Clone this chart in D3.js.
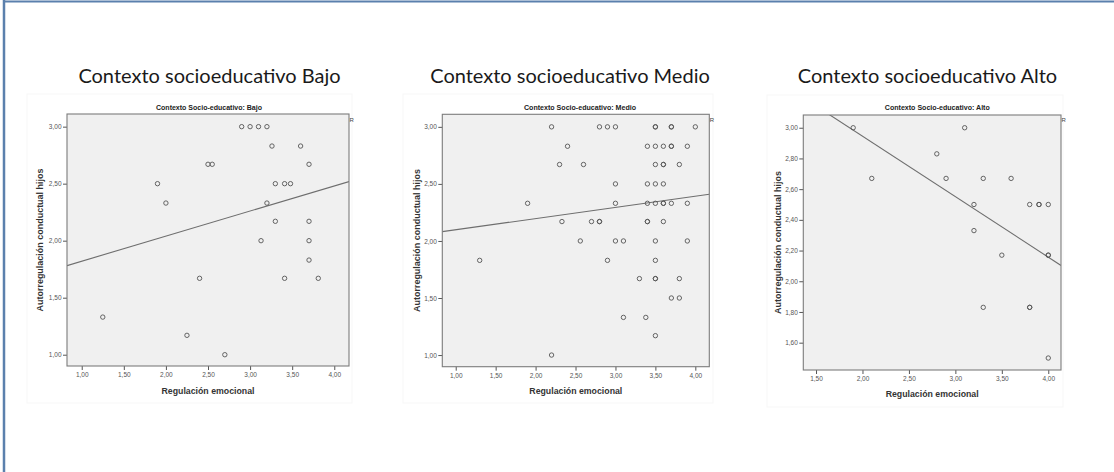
<!DOCTYPE html>
<html>
<head>
<meta charset="utf-8">
<script src="https://cdn.jsdelivr.net/npm/d3@7"></script>
<style>
  body { margin: 0; background: #fff; }
  svg { display: block; }
</style>
</head>
<body>
<svg id="chart"></svg>
<script>
// ---- data ----
const groups = ["Bajo", "Medio", "Alto"];

const bajoX = [2.9, 3.0, 3.1, 3.2, 3.26, 3.6, 2.5, 2.55, 3.7, 1.9, 3.3, 3.41, 3.48,
  2.0, 3.2, 3.3, 3.7, 3.13, 3.7, 3.7, 2.4, 3.41, 3.81, 1.25, 2.25, 2.7];
const bajoY = [3.0, 3.0, 3.0, 3.0, 2.83, 2.83, 2.67, 2.67, 2.67, 2.5, 2.5, 2.5, 2.5,
  2.33, 2.33, 2.17, 2.17, 2.0, 2.0, 1.83, 1.67, 1.67, 1.67, 1.33, 1.17, 1.0];

const medioX = [2.2, 2.8, 2.9, 3.0, 3.5, 3.5, 3.7, 3.7, 4.0,
  2.4, 3.4, 3.5, 3.6, 3.7, 3.7, 3.9,
  2.3, 2.6, 3.5, 3.6, 3.6, 3.8,
  3.0, 3.4, 3.5, 3.6,
  1.9, 3.0, 3.4, 3.5, 3.6, 3.6, 3.7, 3.9,
  2.33, 2.7, 2.8, 2.8, 3.4, 3.4, 3.6,
  2.56, 3.0, 3.1, 3.5, 3.9,
  1.3, 2.9, 3.5,
  3.3, 3.5, 3.5, 3.8,
  3.7, 3.8,
  3.1, 3.38,
  3.5,
  2.2];
const medioY = [3.0, 3.0, 3.0, 3.0, 3.0, 3.0, 3.0, 3.0, 3.0,
  2.83, 2.83, 2.83, 2.83, 2.83, 2.83, 2.83,
  2.67, 2.67, 2.67, 2.67, 2.67, 2.67,
  2.5, 2.5, 2.5, 2.5,
  2.33, 2.33, 2.33, 2.33, 2.33, 2.33, 2.33, 2.33,
  2.17, 2.17, 2.17, 2.17, 2.17, 2.17, 2.17,
  2.0, 2.0, 2.0, 2.0, 2.0,
  1.83, 1.83, 1.83,
  1.67, 1.67, 1.67, 1.67,
  1.5, 1.5,
  1.33, 1.33,
  1.17,
  1.0];

const altoX = [1.9, 3.1, 2.8, 2.1, 2.9, 3.3, 3.6, 3.2, 3.8, 3.9, 3.9, 4.0,
  3.2, 3.5, 4.0, 4.0, 3.3, 3.8, 3.8, 4.0];
const altoY = [3.0, 3.0, 2.83, 2.67, 2.67, 2.67, 2.67, 2.5, 2.5, 2.5, 2.5, 2.5,
  2.33, 2.17, 2.17, 2.17, 1.83, 1.83, 1.83, 1.5];

// linear fit lines (intercept, slope) as drawn in the picture
const fitIntercept = [1.60, 2.00, 3.733];
const fitSlope = [0.22, 0.098, -0.394];

const xTicksLow = [1, 1.5, 2, 2.5, 3, 3.5, 4];
const yTicksLow = [1, 1.5, 2, 2.5, 3];
const xTicksAlto = [1.5, 2, 2.5, 3, 3.5, 4];
const yTicksAlto = [1.6, 1.8, 2, 2.2, 2.4, 2.6, 2.8, 3];

const zip = (xs, ys) => xs.map((x, i) => ({ x: x, y: ys[i] }));

class ScatterPanel {
  constructor(_config, _data) {
    this.config = _config;
    this.data = _data;
    this.initVis();
  }

  initVis() {
    let vis = this;
    let c = vis.config;

    vis.svg = d3.select(c.parentElement);
    vis.g = vis.svg.append('g');

    // big slide title
    vis.g.append('text')
      .attr('x', c.titleX)
      .attr('y', 83)
      .attr('text-anchor', 'middle')
      .style('font-family', 'Lato, "Open Sans", sans-serif')
      .style('font-size', '20px')
      .style('fill', '#1a1a1a')
      .text('Contexto socioeducativo ' + c.group);

    // white panel of the pasted SPSS chart
    vis.g.append('rect')
      .attr('x', c.bg[0]).attr('y', c.bg[1])
      .attr('width', c.bg[2] - c.bg[0]).attr('height', c.bg[3] - c.bg[1])
      .attr('fill', '#fff')
      .attr('stroke', '#f7f7f7');

    vis.xScale = d3.scaleLinear().domain(c.xDomain).range([c.frame.left, c.frame.right]);
    vis.yScale = d3.scaleLinear().domain(c.yDomain).range([c.frame.bottom, c.frame.top]);

    vis.updateVis();
  }

  updateVis() {
    let vis = this;
    let c = vis.config;
    let w = c.frame.right - c.frame.left;
    let h = c.frame.bottom - c.frame.top;
    let fmt = d3.formatLocale({ decimal: ',', thousands: '.', grouping: [3], currency: ['', ''] }).format('.2f');

    vis.g.append('rect')
      .attr('x', c.frame.left).attr('y', c.frame.top)
      .attr('width', w).attr('height', h)
      .attr('fill', '#f0f0f0');

    let clipId = 'clip' + c.group;
    vis.g.append('clipPath').attr('id', clipId)
      .append('rect')
      .attr('x', c.frame.left).attr('y', c.frame.top)
      .attr('width', w).attr('height', h);

    // axes
    let xAxis = d3.axisBottom(vis.xScale).tickValues(c.xTicks).tickFormat(fmt)
      .tickSize(4).tickSizeOuter(0).tickPadding(2.5);
    let yAxis = d3.axisLeft(vis.yScale).tickValues(c.yTicks).tickFormat(fmt)
      .tickSize(4).tickSizeOuter(0).tickPadding(1.5);

    let xg = vis.g.append('g')
      .attr('transform', `translate(0,${c.frame.bottom})`)
      .call(xAxis);
    let yg = vis.g.append('g')
      .attr('transform', `translate(${c.frame.left},0)`)
      .call(yAxis);
    [xg, yg].forEach(ag => {
      ag.select('.domain').remove();
      ag.selectAll('line').attr('stroke', '#555');
      ag.selectAll('text')
        .style('font-family', '"Liberation Sans", Arial, sans-serif')
        .style('font-size', '6.5px')
        .attr('fill', '#555');
    });

    vis.renderVis(clipId);

    // frame
    vis.g.append('rect')
      .attr('x', c.frame.left).attr('y', c.frame.top)
      .attr('width', w).attr('height', h)
      .attr('fill', 'none')
      .attr('stroke', '#7c7c7c')
      .attr('stroke-width', 1.1);

    // chart title inside the pasted picture
    vis.g.append('text')
      .attr('x', c.innerTitleX).attr('y', 110)
      .attr('text-anchor', 'middle')
      .attr('textLength', c.innerTitleLen)
      .attr('lengthAdjust', 'spacingAndGlyphs')
      .style('font-family', '"Liberation Sans", Arial, sans-serif')
      .style('font-weight', 'bold')
      .style('font-size', '7.5px')
      .attr('fill', '#222')
      .text('Contexto Socio-educativo: ' + c.group);

    // x axis label
    vis.g.append('text')
      .attr('x', (c.frame.left + c.frame.right) / 2).attr('y', c.xLabelY)
      .attr('text-anchor', 'middle')
      .attr('textLength', 93)
      .attr('lengthAdjust', 'spacingAndGlyphs')
      .style('font-family', '"Liberation Sans", Arial, sans-serif')
      .style('font-weight', 'bold')
      .style('font-size', '9.5px')
      .attr('fill', '#333')
      .text('Regulación emocional');

    // y axis label
    vis.g.append('text')
      .attr('transform', `translate(${c.yLabelX},${(c.frame.top + c.frame.bottom) / 2}) rotate(-90)`)
      .attr('text-anchor', 'middle')
      .attr('dy', '0.35em')
      .attr('textLength', 143)
      .attr('lengthAdjust', 'spacingAndGlyphs')
      .style('font-family', '"Liberation Sans", Arial, sans-serif')
      .style('font-weight', 'bold')
      .style('font-size', '9px')
      .attr('fill', '#333')
      .text('Autorregulación conductual hijos');

    // cut-off R² label at the right edge
    vis.g.append('text')
      .attr('x', c.frame.right + 0.5).attr('y', 122)
      .style('font-family', '"Liberation Sans", Arial, sans-serif')
      .style('font-size', '6px')
      .attr('fill', '#444')
      .text('R');
  }

  renderVis(clipId) {
    let vis = this;
    let c = vis.config;

    // fit line
    let x0 = c.xDomain[0], x1 = c.xDomain[1];
    vis.g.append('line')
      .attr('clip-path', `url(#${clipId})`)
      .attr('x1', vis.xScale(x0)).attr('y1', vis.yScale(c.intercept + c.slope * x0))
      .attr('x2', vis.xScale(x1)).attr('y2', vis.yScale(c.intercept + c.slope * x1))
      .attr('stroke', '#6e6e6e')
      .attr('stroke-width', 1.1);

    vis.g.append('g')
      .selectAll('circle')
      .data(vis.data)
      .enter()
      .append('circle')
      .attr('cx', d => vis.xScale(d.x))
      .attr('cy', d => vis.yScale(d.y))
      .attr('r', 2.2)
      .attr('fill', 'none')
      .attr('stroke', '#555')
      .attr('stroke-width', 0.9);
  }
}

const svg = d3.select('#chart').attr('width', 1114).attr('height', 472);

// slide outline (only top and left edges are visible)
svg.append('line').attr('x1', 3).attr('y1', 1.5).attr('x2', 1114).attr('y2', 1.5)
  .attr('stroke', '#5b80ad').attr('stroke-width', 2);
svg.append('line').attr('x1', 4).attr('y1', 0).attr('x2', 4).attr('y2', 472)
  .attr('stroke', '#5b80ad').attr('stroke-width', 2.5);

new ScatterPanel({
  parentElement: '#chart', group: groups[0], titleX: 209.5,
  bg: [27, 94, 352, 403],
  frame: { left: 67, top: 114, right: 349, bottom: 366 },
  xDomain: [0.825, 4.175], yDomain: [0.901, 3.111],
  xTicks: xTicksLow, yTicks: yTicksLow,
  intercept: fitIntercept[0], slope: fitSlope[0],
  innerTitleX: 209, innerTitleLen: 106, xLabelY: 394, yLabelX: 40
}, zip(bajoX, bajoY));

new ScatterPanel({
  parentElement: '#chart', group: groups[1], titleX: 570,
  bg: [403, 94, 713, 403],
  frame: { left: 442.3, top: 114.3, right: 709.3, bottom: 366.7 },
  xDomain: [0.832, 4.175], yDomain: [0.898, 3.11],
  xTicks: xTicksLow, yTicks: yTicksLow,
  intercept: fitIntercept[1], slope: fitSlope[1],
  innerTitleX: 580, innerTitleLen: 112, xLabelY: 394, yLabelX: 416.7
}, zip(medioX, medioY));

new ScatterPanel({
  parentElement: '#chart', group: groups[2], titleX: 927.5,
  bg: [767, 95, 1063, 407],
  frame: { left: 803.3, top: 115, right: 1061, bottom: 370 },
  xDomain: [1.363, 4.137], yDomain: [1.422, 3.083],
  xTicks: xTicksAlto, yTicks: yTicksAlto,
  intercept: fitIntercept[2], slope: fitSlope[2],
  innerTitleX: 937.3, innerTitleLen: 105, xLabelY: 396.5, yLabelX: 778.3
}, zip(altoX, altoY));
</script>
</body>
</html>
